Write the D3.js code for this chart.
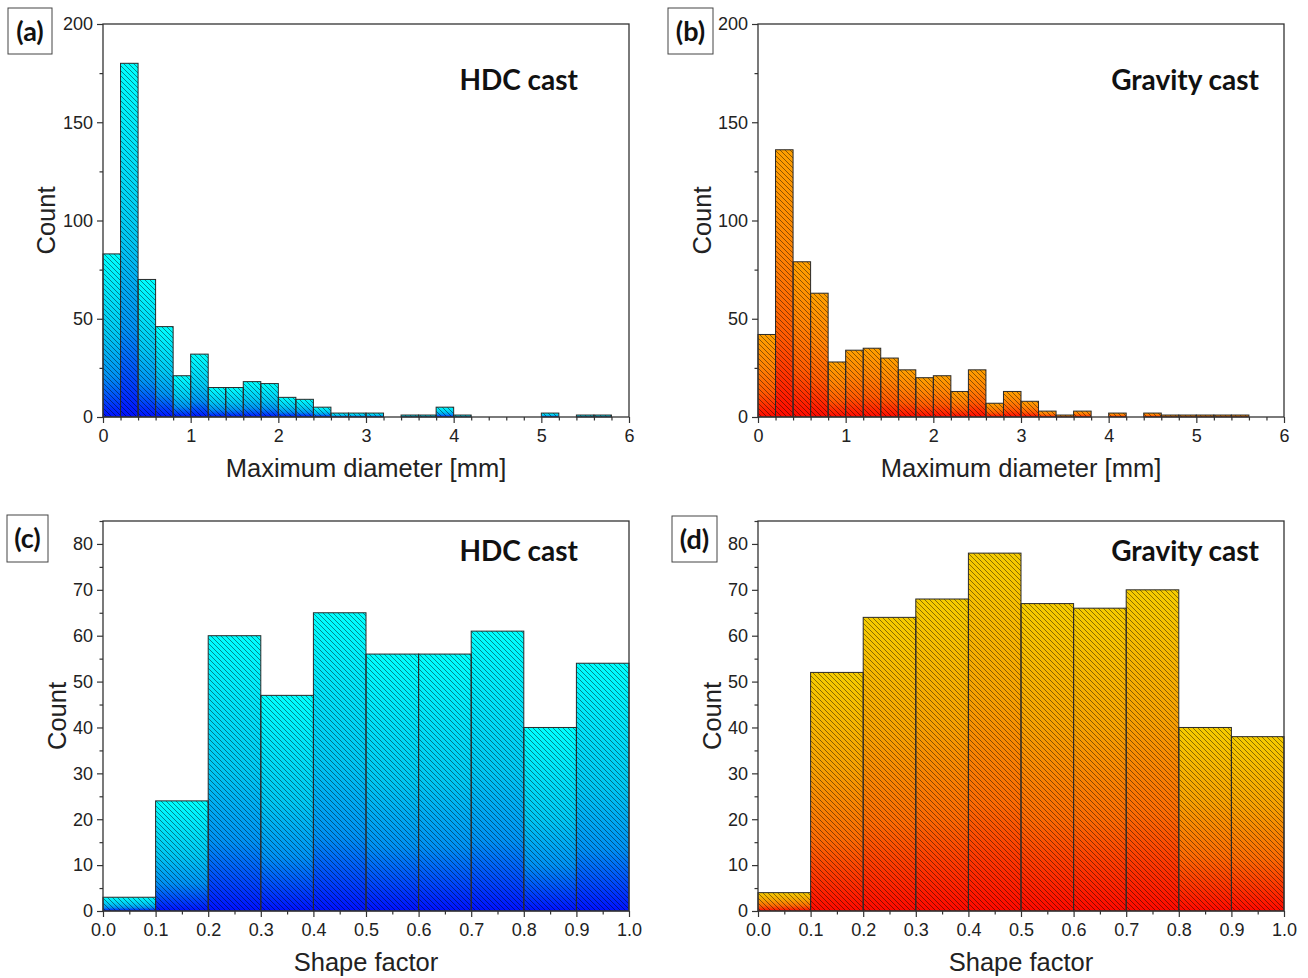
<!DOCTYPE html>
<html>
<head>
<meta charset="utf-8">
<script src="https://cdn.jsdelivr.net/npm/d3@7"></script>
<style>
  body { margin: 0; background: #fff; }
  svg { display: block; }
  .tick text { font-family: "Liberation Sans", Arial, sans-serif; font-size: 18px; fill: #222; }
  .tick line { stroke: #333; stroke-width: 1.2; }
</style>
</head>
<body>
<div id="chart"></div>
<script>
// bin counts
const diameterBinWidth = 0.2;
const hdcDiameterCounts = [83, 180, 70, 46, 21, 32, 15, 15, 18, 17, 10, 9, 5, 2, 2, 2, 0, 1, 1, 5, 1, 0, 0, 0, 0, 2, 0, 1, 1, 0];
const gravityDiameterCounts = [42, 136, 79, 63, 28, 34, 35, 30, 24, 20, 21, 13, 24, 7, 13, 8, 3, 1, 3, 0, 2, 0, 2, 1, 1, 1, 1, 1, 0, 0];

const shapeBinWidth = 0.1;
const hdcShapeCounts = [3, 24, 60, 47, 65, 56, 56, 61, 40, 54];
const gravityShapeCounts = [4, 52, 64, 68, 78, 67, 66, 70, 40, 38];

const diameterTicks = [0, 1, 2, 3, 4, 5, 6];
const diameterCountTicks = [0, 50, 100, 150, 200];
const shapeTicks = [0, 0.1, 0.2, 0.3, 0.4, 0.5, 0.6, 0.7, 0.8, 0.9, 1.0];
const shapeCountTicks = [0, 10, 20, 30, 40, 50, 60, 70, 80];

const panels = [
    { tag: "(a)", title: "HDC cast", counts: hdcDiameterCounts, bin: diameterBinWidth,
      xDomain: [0, 6], yDomain: [0, 200], xTicks: diameterTicks, yTicks: diameterCountTicks,
      xMinor: 0.2, yMinor: 25, xFormat: d3.format("d"), xLabel: "Maximum diameter [mm]",
      left: 103, top: 24, right: 629, bottom: 417, grad: "blue",
      tagBox: [8, 8, 44, 46], titleX: 578, titleY: 90, countX: 46 },
    { tag: "(b)", title: "Gravity cast", counts: gravityDiameterCounts, bin: diameterBinWidth,
      xDomain: [0, 6], yDomain: [0, 200], xTicks: diameterTicks, yTicks: diameterCountTicks,
      xMinor: 0.2, yMinor: 25, xFormat: d3.format("d"), xLabel: "Maximum diameter [mm]",
      left: 758, top: 24, right: 1284, bottom: 417, grad: "orange",
      tagBox: [668, 8, 45, 46], titleX: 1259, titleY: 90, countX: 702 },
    { tag: "(c)", title: "HDC cast", counts: hdcShapeCounts, bin: shapeBinWidth,
      xDomain: [0, 1], yDomain: [0, 85], xTicks: shapeTicks, yTicks: shapeCountTicks,
      xMinor: 0.05, yMinor: 5, xFormat: d3.format(".1f"), xLabel: "Shape factor",
      left: 103, top: 521, right: 629, bottom: 911, grad: "blue",
      tagBox: [7, 515, 41, 47], titleX: 578, titleY: 561, countX: 57 },
    { tag: "(d)", title: "Gravity cast", counts: gravityShapeCounts, bin: shapeBinWidth,
      xDomain: [0, 1], yDomain: [0, 85], xTicks: shapeTicks, yTicks: shapeCountTicks,
      xMinor: 0.05, yMinor: 5, xFormat: d3.format(".1f"), xLabel: "Shape factor",
      left: 758, top: 521, right: 1284, bottom: 911, grad: "yellow",
      tagBox: [672, 516, 45, 46], titleX: 1259, titleY: 561, countX: 712 }
];

// stops from bar bottom (0) to bar top (1)
const gradients = {
    blue: [[0, "#0010ff"], [0.25, "#0090f2"], [0.5, "#00c6f2"], [1, "#00ffff"]],
    orange: [[0, "#ff0800"], [0.3, "#ff5a02"], [0.6, "#ff8204"], [1, "#ffa000"]],
    yellow: [[0, "#ff0800"], [0.3, "#fb6a04"], [0.6, "#f6a002"], [1, "#f6cc00"]]
};

const svg = d3.select("#chart").append("svg")
    .attr("width", 1308)
    .attr("height", 978);

const defs = svg.append("defs");

Object.entries(gradients).forEach(([name, stops]) => {
    const g = defs.append("linearGradient")
        .attr("id", `grad-${name}`)
        .attr("x1", 0).attr("y1", 1)
        .attr("x2", 0).attr("y2", 0);
    stops.forEach(([o, c]) => {
        g.append("stop").attr("offset", o).attr("stop-color", c);
    });
});

const hatch = defs.append("pattern")
    .attr("id", "hatch")
    .attr("patternUnits", "userSpaceOnUse")
    .attr("width", 5)
    .attr("height", 5);
hatch.append("path")
    .attr("d", "M0,0L5,5M-1,4L1,6M4,-1L6,1")
    .attr("stroke", "rgba(0,0,0,0.6)")
    .attr("stroke-width", 0.75);

function minorValues(domain, step, majors) {
    const out = [];
    const n = Math.round((domain[1] - domain[0]) / step);
    for (let i = 0; i <= n; i++) {
        const v = domain[0] + i * step;
        if (!majors.some(m => Math.abs(m - v) < 1e-9)) out.push(v);
    }
    return out;
}

function drawPanel(p) {
    const x = d3.scaleLinear().domain(p.xDomain).range([p.left, p.right]);
    const y = d3.scaleLinear().domain(p.yDomain).range([p.bottom, p.top]);
    const g = svg.append("g");

    const bars = p.counts.map((c, i) => ({ x0: i * p.bin, x1: (i + 1) * p.bin, count: c }))
        .filter(d => d.count > 0);

    const barG = g.append("g");
    barG.selectAll("rect.fill")
        .data(bars)
        .enter()
        .append("rect")
        .attr("class", "fill")
        .attr("x", d => x(d.x0))
        .attr("y", d => y(d.count))
        .attr("width", d => x(d.x1) - x(d.x0))
        .attr("height", d => y(0) - y(d.count))
        .attr("fill", `url(#grad-${p.grad})`);

    barG.selectAll("rect.hatch")
        .data(bars)
        .enter()
        .append("rect")
        .attr("class", "hatch")
        .attr("x", d => x(d.x0))
        .attr("y", d => y(d.count))
        .attr("width", d => x(d.x1) - x(d.x0))
        .attr("height", d => y(0) - y(d.count))
        .attr("fill", "url(#hatch)")
        .attr("stroke", "#2a2a2a")
        .attr("stroke-width", 1);

    // axes
    const xAxis = g.append("g")
        .attr("transform", `translate(0,${p.bottom})`)
        .call(d3.axisBottom(x).tickValues(p.xTicks).tickFormat(p.xFormat).tickSize(6).tickPadding(3));
    xAxis.select(".domain").remove();
    xAxis.selectAll("text").attr("dy", "0.9em");

    const xMinor = g.append("g")
        .attr("transform", `translate(0,${p.bottom})`)
        .call(d3.axisBottom(x).tickValues(minorValues(p.xDomain, p.xMinor, p.xTicks)).tickFormat("").tickSize(3.5));
    xMinor.select(".domain").remove();

    const yAxis = g.append("g")
        .attr("transform", `translate(${p.left},0)`)
        .call(d3.axisLeft(y).tickValues(p.yTicks).tickSize(6).tickPadding(4));
    yAxis.select(".domain").remove();

    const yMinor = g.append("g")
        .attr("transform", `translate(${p.left},0)`)
        .call(d3.axisLeft(y).tickValues(minorValues(p.yDomain, p.yMinor, p.yTicks)).tickFormat("").tickSize(3.5));
    yMinor.select(".domain").remove();

    // frame
    g.append("rect")
        .attr("x", p.left)
        .attr("y", p.top)
        .attr("width", p.right - p.left)
        .attr("height", p.bottom - p.top)
        .attr("fill", "none")
        .attr("stroke", "#333")
        .attr("stroke-width", 1.3);

    // labels
    g.append("text")
        .attr("x", (p.left + p.right) / 2)
        .attr("y", p.bottom + 60)
        .attr("text-anchor", "middle")
        .style("font-family", "'Liberation Sans', Arial, sans-serif")
        .style("font-size", "25.5px")
        .style("fill", "#222")
        .text(p.xLabel);

    g.append("text")
        .attr("transform", `translate(${p.countX},${(p.top + p.bottom) / 2}) rotate(-90)`)
        .attr("text-anchor", "middle")
        .attr("dy", "0.35em")
        .style("font-family", "'Liberation Sans', Arial, sans-serif")
        .style("font-size", "25.5px")
        .style("fill", "#222")
        .text("Count");

    g.append("text")
        .attr("x", p.titleX)
        .attr("y", p.titleY)
        .attr("text-anchor", "end")
        .style("font-family", "Lato, 'Open Sans', sans-serif")
        .style("font-weight", "bold")
        .style("font-size", "28px")
        .style("fill", "#111")
        .text(p.title);

    const [bx, by, bw, bh] = p.tagBox;
    g.append("rect")
        .attr("x", bx).attr("y", by)
        .attr("width", bw).attr("height", bh)
        .attr("fill", "#fff")
        .attr("stroke", "#444")
        .attr("stroke-width", 1);
    g.append("text")
        .attr("x", bx + bw / 2)
        .attr("y", by + bh / 2)
        .attr("dy", "0.36em")
        .attr("text-anchor", "middle")
        .style("font-family", "Lato, 'Open Sans', sans-serif")
        .style("font-weight", "bold")
        .style("font-size", "27px")
        .style("fill", "#111")
        .text(p.tag);
}

panels.forEach(drawPanel);
</script>
</body>
</html>
